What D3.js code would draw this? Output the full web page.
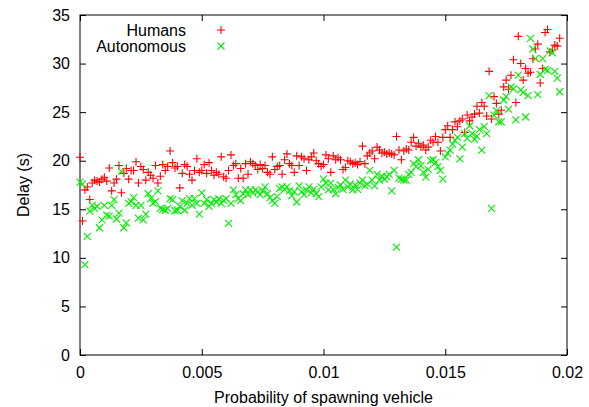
<!DOCTYPE html>
<html>
<head>
<meta charset="utf-8">
<script src="https://cdn.jsdelivr.net/npm/d3@7"></script>
<style>
  html, body { margin: 0; padding: 0; background: #fff; }
  svg { display: block; font-family: "Liberation Sans", Arial, Helvetica, sans-serif; }
</style>
</head>
<body>
<svg id="chart" width="589" height="407"></svg>
<script>
// Spawning probability for each simulation run
const probability = [
  0, 0.0001, 0.0002, 0.0003, 0.0004, 0.0005, 0.0006, 0.0007, 0.0008, 0.0009,
  0.001, 0.0011, 0.0012, 0.0013, 0.0014, 0.0015, 0.0016, 0.0017, 0.0018, 0.0019,
  0.002, 0.0021, 0.0022, 0.0023, 0.0024, 0.0025, 0.0026, 0.0027, 0.0028, 0.0029,
  0.003, 0.0031, 0.0032, 0.0033, 0.0034, 0.0035, 0.0036, 0.0037, 0.0038, 0.0039,
  0.004, 0.0041, 0.0042, 0.0043, 0.0044, 0.0045, 0.0046, 0.0047, 0.0048, 0.0049,
  0.005, 0.0051, 0.0052, 0.0053, 0.0054, 0.0055, 0.0056, 0.0057, 0.0058, 0.0059,
  0.006, 0.0061, 0.0062, 0.0063, 0.0064, 0.0065, 0.0066, 0.0067, 0.0068, 0.0069,
  0.007, 0.0071, 0.0072, 0.0073, 0.0074, 0.0075, 0.0076, 0.0077, 0.0078, 0.0079,
  0.008, 0.0081, 0.0082, 0.0083, 0.0084, 0.0085, 0.0086, 0.0087, 0.0088, 0.0089,
  0.009, 0.0091, 0.0092, 0.0093, 0.0094, 0.0095, 0.0096, 0.0097, 0.0098, 0.0099,
  0.01, 0.0101, 0.0102, 0.0103, 0.0104, 0.0105, 0.0106, 0.0107, 0.0108, 0.0109,
  0.011, 0.0111, 0.0112, 0.0113, 0.0114, 0.0115, 0.0116, 0.0117, 0.0118, 0.0119,
  0.012, 0.0121, 0.0122, 0.0123, 0.0124, 0.0125, 0.0126, 0.0127, 0.0128, 0.0129,
  0.013, 0.0131, 0.0132, 0.0133, 0.0134, 0.0135, 0.0136, 0.0137, 0.0138, 0.0139,
  0.014, 0.0141, 0.0142, 0.0143, 0.0144, 0.0145, 0.0146, 0.0147, 0.0148, 0.0149,
  0.015, 0.0151, 0.0152, 0.0153, 0.0154, 0.0155, 0.0156, 0.0157, 0.0158, 0.0159,
  0.016, 0.0161, 0.0162, 0.0163, 0.0164, 0.0165, 0.0166, 0.0167, 0.0168, 0.0169,
  0.017, 0.0171, 0.0172, 0.0173, 0.0174, 0.0175, 0.0176, 0.0177, 0.0178, 0.0179,
  0.018, 0.0181, 0.0182, 0.0183, 0.0184, 0.0185, 0.0186, 0.0187, 0.0188, 0.0189,
  0.019, 0.0191, 0.0192, 0.0193, 0.0194, 0.0195, 0.0196, 0.0197
];

// Mean delay (s) of human-driven vehicles
const humans = [
  20.35, 13.8, 17.0, 17.3, 16.0, 17.7, 18.0, 17.9, 17.8, 18.1,
  18.3, 17.9, 19.25, 16.9, 17.7, 18.1, 19.5, 16.7, 18.7, 19.2,
  18.1, 19.0, 19.0, 19.9, 17.7, 19.4, 19.1, 18.0, 18.8, 18.5,
  18.2, 19.5, 17.7, 18.4, 19.6, 19.0, 19.4, 21.0, 19.8, 19.25,
  19.4, 17.2, 18.7, 19.6, 19.4, 18.6, 18.0, 19.0, 20.2, 18.8,
  19.0, 19.6, 18.7, 19.8, 19.0, 18.5, 18.8, 18.6, 20.4, 18.35,
  18.2, 19.0, 20.6, 19.5, 19.7, 18.2, 19.2, 18.2, 19.7, 18.6,
  19.9, 19.7, 19.5, 19.1, 19.6, 19.2, 19.5, 18.8, 18.6, 20.4,
  19.1, 19.4, 19.5, 18.6, 20.1, 20.7, 19.7, 19.5, 18.8, 20.5,
  19.5, 20.4, 20.2, 19.0, 20.1, 20.4, 20.8, 20.0, 19.7, 19.4,
  19.6, 20.6, 20.2, 18.8, 20.5, 20.1, 20.3, 20.1, 19.1, 19.3,
  20.0, 19.9, 19.7, 19.8, 19.6, 19.9, 21.5, 19.7, 20.5, 20.8,
  21.0, 20.2, 21.4, 21.1, 20.8, 20.9, 20.7, 20.8, 20.7, 20.6,
  22.5, 21.1, 20.1, 21.0, 21.2, 21.1, 21.9, 22.4, 21.5, 21.8,
  21.4, 21.6, 21.1, 21.4, 22.1, 21.9, 22.5, 21.9, 21.0, 22.4,
  23.2, 23.6, 22.4, 23.2, 24.0, 23.5, 24.1, 24.3, 22.9, 24.7,
  24.1, 24.5, 24.8, 25.6, 24.9, 26.0, 25.6, 24.6, 29.2, 24.3,
  26.6, 25.9, 24.8, 25.2, 27.6, 28.3, 27.35, 28.8, 30.4, 26.0,
  32.8, 30.0, 28.3, 29.5, 29.0, 29.1, 30.5, 31.5, 32.0, 28.0,
  29.5, 33.2, 33.5, 31.2, 31.4, 31.9, 31.8, 32.6
];

// Mean delay (s) of autonomous vehicles
const autonomous = [
  17.8, 17.6, 9.3, 12.2, 14.8, 15.4, 15.1, 15.3, 13.1, 13.9,
  15.4, 14.4, 14.3, 15.4, 16.0, 14.0, 14.6, 18.9, 13.1, 13.6,
  15.6, 15.8, 16.2, 15.4, 14.1, 15.4, 13.9, 14.5, 16.6, 16.1,
  15.6, 15.8, 16.9, 15.1, 15.0, 14.9, 15.1, 16.1, 16.0, 14.85,
  14.9, 15.3, 15.9, 14.9, 15.6, 16.1, 15.4, 16.1, 15.6, 14.5,
  16.7, 15.6, 16.0, 15.3, 15.6, 16.0, 15.75, 16.1, 15.6, 15.9,
  16.1, 13.55, 15.6, 17.0, 16.5, 16.1, 15.9, 16.6, 17.0, 16.5,
  17.0, 16.7, 17.0, 16.8, 16.5, 16.9, 17.3, 16.6, 16.2, 15.9,
  15.6, 16.3, 17.15, 17.3, 17.05, 17.3, 16.9, 16.4, 16.8, 15.75,
  17.4, 16.8, 16.5, 17.0, 17.3, 16.7, 17.05, 16.6, 16.3, 17.3,
  18.1, 17.7, 17.0, 17.7, 17.05, 16.6, 17.25, 17.5, 17.05, 18.0,
  17.3, 17.6, 17.0, 17.5, 17.05, 17.7, 18.0, 17.4, 17.6, 19.0,
  18.0, 17.4, 18.6, 18.0, 18.4, 18.1, 18.35, 18.6, 16.9, 19.0,
  11.1, 18.2, 18.1, 18.0, 18.0, 18.6, 18.8, 19.7, 19.4, 20.1,
  19.5, 18.8, 18.3, 19.1, 20.0, 20.1, 19.8, 19.4, 19.0, 18.1,
  20.4, 20.75, 21.1, 21.7, 22.1, 22.4, 20.2, 21.4, 22.8, 22.3,
  23.6, 22.8, 22.2, 22.5, 23.2, 21.1, 23.5, 22.8, 26.7, 15.1,
  24.7, 25.15, 24.0, 24.0, 26.25, 26.6, 25.3, 27.6, 27.4, 24.2,
  28.8, 27.3, 27.0, 24.5, 26.7, 32.6, 31.5, 30.5, 26.8, 28.9,
  30.5, 29.4, 29.3, 31.3, 31.1, 29.2, 28.5, 27.1
];

const seriesNames = ["Humans", "Autonomous"];
const seriesColors = ["#ff0000", "#00ee00"];
const xTickValues = [0, 0.005, 0.01, 0.015, 0.02];
const xTickLabels = ["0", "0.005", "0.01", "0.015", "0.02"];
const yTickValues = [0, 5, 10, 15, 20, 25, 30, 35];
const xTitle = "Probability of spawning vehicle";
const yTitle = "Delay (s)";

const svg = d3.select("#chart");
const W = 589, H = 407;
const plot = { left: 80, right: 567, top: 15, bottom: 355 };
const fontSize = 16;
const tickLen = 6;

const x = d3.scaleLinear().domain([0, 0.02]).range([plot.left, plot.right]);
const y = d3.scaleLinear().domain([0, 35]).range([plot.bottom, plot.top]);

svg.append("rect").attr("width", W).attr("height", H).attr("fill", "#fff");

// Axes with inward ticks, mirrored on top and right
const xFmt = d => xTickLabels[xTickValues.indexOf(d)];
function styleAxis(g) {
  g.select(".domain").remove();
  g.selectAll(".tick line").attr("stroke", "#000").attr("stroke-width", 1);
  g.selectAll(".tick text").attr("fill", "#000").attr("font-size", fontSize)
    .attr("font-family", '"Liberation Sans", Arial, sans-serif');
}

svg.append("g").attr("transform", `translate(0,${plot.bottom})`)
  .call(d3.axisBottom(x).tickValues(xTickValues).tickFormat(xFmt)
    .tickSizeInner(-tickLen).tickSizeOuter(0).tickPadding(12))
  .call(styleAxis);

svg.append("g").attr("transform", `translate(0,${plot.top})`)
  .call(d3.axisTop(x).tickValues(xTickValues).tickFormat("")
    .tickSizeInner(-tickLen).tickSizeOuter(0))
  .call(styleAxis);

svg.append("g").attr("transform", `translate(${plot.left},0)`)
  .call(d3.axisLeft(y).tickValues(yTickValues).tickFormat(d3.format("d"))
    .tickSizeInner(-tickLen).tickSizeOuter(0).tickPadding(10))
  .call(styleAxis);

svg.append("g").attr("transform", `translate(${plot.right},0)`)
  .call(d3.axisRight(y).tickValues(yTickValues).tickFormat("")
    .tickSizeInner(-tickLen).tickSizeOuter(0))
  .call(styleAxis);

// Frame
svg.append("rect")
  .attr("x", plot.left).attr("y", plot.top)
  .attr("width", plot.right - plot.left).attr("height", plot.bottom - plot.top)
  .attr("fill", "none").attr("stroke", "#000").attr("stroke-width", 1);

// Marker shapes: plus for humans, cross for autonomous
const plusPath = s => `M${-s},0H${s}M0,${-s}V${s}`;
const crossPath = s => `M${-s},${-s}L${s},${s}M${-s},${s}L${s},${-s}`;
const markers = [plusPath(4), crossPath(3.5)];

const series = [humans, autonomous];
series.forEach((vals, k) => {
  const pts = probability.map((p, i) => ({ p, v: vals[i] }));
  svg.append("g")
    .selectAll("path")
    .data(pts)
    .join("path")
    .attr("transform", d => `translate(${x(d.p)},${y(d.v)})`)
    .attr("d", markers[k])
    .attr("fill", "none")
    .attr("stroke", seriesColors[k])
    .attr("stroke-width", 1.1);
});

// Legend
const legend = svg.append("g");
seriesNames.forEach((name, k) => {
  const ly = 30 + k * 16;
  legend.append("text")
    .attr("x", 186).attr("y", ly).attr("dy", "0.35em")
    .attr("text-anchor", "end")
    .attr("font-size", fontSize).attr("fill", "#000")
    .text(name);
  legend.append("path")
    .attr("transform", `translate(221,${ly})`)
    .attr("d", markers[k])
    .attr("fill", "none")
    .attr("stroke", seriesColors[k])
    .attr("stroke-width", 1.1);
});

// Axis titles
svg.append("text")
  .attr("x", (plot.left + plot.right) / 2).attr("y", 403)
  .attr("text-anchor", "middle").attr("font-size", fontSize).attr("fill", "#000")
  .text(xTitle);

svg.append("text")
  .attr("transform", `translate(23,${(plot.top + plot.bottom) / 2}) rotate(-90)`)
  .attr("dy", "0.35em")
  .attr("text-anchor", "middle").attr("font-size", fontSize).attr("fill", "#000")
  .text(yTitle);
</script>
</body>
</html>
